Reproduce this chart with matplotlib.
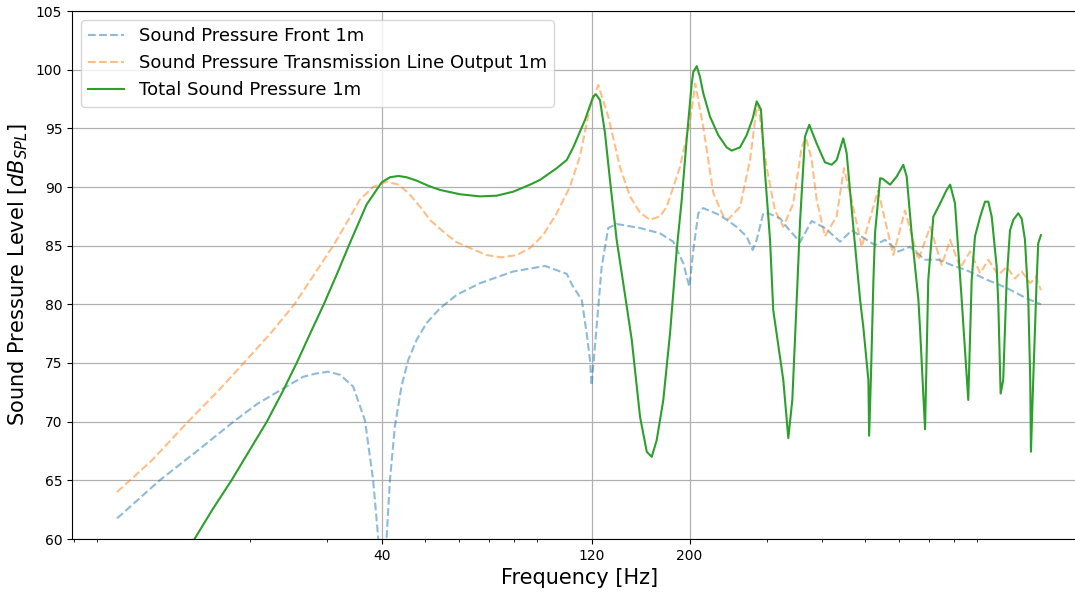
import matplotlib
matplotlib.use("Agg")
import matplotlib.pyplot as plt
import numpy as np

freq_front = [10.0, 12.5, 15.2, 18.4, 20.8, 23.9, 26.5, 28.3, 30.2, 32.1, 34.4, 36.6, 38.2,
              39.2, 39.8,
              41.0, 41.7, 42.8, 44.3, 45.9, 48.0, 50.5, 54.2, 59.1, 66.8, 79.5, 93.9,
              105.2, 108.4, 113.8, 116.8,
              118.8, 119.8, 123.0, 126.3, 130.7, 136.6, 154.4, 171.4, 183.7, 193.6, 199.8,
              204.0, 209.4, 214.9, 234.6, 256.0, 269.8, 278.4, 284.3, 294.2, 302.0, 321.2,
              332.6, 356.6, 379.0, 406.3, 439.8, 467.2, 528.0, 556.4, 596.6, 634.0, 686.0,
              735.3, 788.3, 853.1, 947.1, 1051.5, 1167.6, 1258.0]
spl_front = [61.76, 65.0, 67.5, 70.0, 71.5, 72.84, 73.83, 74.1, 74.26, 74.0, 73.0, 70.1, 65.0,
             60.2, 45.0,
             60.2, 65.0, 69.6, 73.0, 75.26, 77.0, 78.4, 79.66, 80.8, 81.8, 82.8, 83.27,
             82.6, 81.6, 80.37, 77.5,
             75.26, 73.1, 78.1, 83.2, 86.5, 86.85, 86.5, 86.05, 85.34, 83.5, 81.5,
             84.6, 87.76, 88.2, 87.6, 86.6, 85.77, 84.63, 85.5, 87.76, 87.76, 87.33,
             86.6, 85.3, 87.1, 86.5, 85.34, 86.3, 85.05, 85.5, 84.5, 84.9, 83.8,
             83.8, 83.35, 82.9, 82.1, 81.4, 80.5, 80.0]

freq_tl = [10.0, 10.7, 12.0, 14.5, 17.0, 19.4, 22.3, 25.3, 27.9, 31.0, 33.8, 35.6, 38.2,
           41.0, 43.6, 45.9, 48.9, 51.4, 55.1, 59.1, 63.4, 69.2, 74.8, 81.0, 86.8, 93.0,
           99.8, 106.9, 112.7, 118.8, 124.1, 130.7, 139.0, 146.5, 154.4,
           162.7, 171.4, 177.4, 190.3, 200.0, 206.1, 214.9, 226.5, 238.6, 245.0, 260.5, 274.5,
           284.3, 286.6, 299.4, 312.8, 326.7, 344.2, 359.7, 367.9, 379.0, 389.1, 406.3,
           432.0, 448.8, 467.2, 492.5, 536.5, 580.9, 617.7, 662.5, 704.6, 748.4, 782.4,
           824.5, 868.8, 915.5, 955.3, 1006.4, 1051.5, 1098.1, 1137.6, 1189.6, 1225.6, 1258.0]
spl_tl = [64.0, 65.0, 66.7, 70.0, 72.65, 75.0, 77.5, 80.0, 82.4, 85.0, 87.4, 88.9, 90.0,
          90.45, 90.2, 89.5, 88.3, 87.2, 86.2, 85.3, 84.8, 84.2, 84.0, 84.2, 84.8, 85.9,
          87.76, 90.0, 92.6, 96.8, 98.7, 96.0, 91.7, 89.2, 87.8,
          87.2, 87.5, 88.3, 91.7, 95.4, 98.8, 95.1, 89.5, 87.5, 87.25, 88.3, 92.3,
          96.8, 97.0, 91.7, 88.0, 86.6, 88.6, 93.4, 94.2, 92.3, 88.9, 85.8,
          87.5, 91.6, 88.9, 84.9, 89.7, 84.2, 88.0, 83.8, 86.6, 83.35, 85.5,
          83.1, 84.5, 82.65, 83.8, 82.5, 83.2, 82.2, 82.8, 81.8, 82.35, 81.2]

freq_total = [10.0, 11.9, 15.0, 16.5, 18.2, 20.0, 21.9, 23.7, 25.6, 27.5, 29.5, 31.7, 33.8,
              36.9, 39.95, 41.7, 43.6, 45.5, 48.0, 51.0, 54.2, 60.2, 66.8, 72.9, 79.5, 86.8,
              91.4, 99.8, 105.2, 108.9, 115.7, 120.8, 122.6, 125.2,
              128.5, 131.9, 136.6, 141.4, 147.8, 154.4, 159.9, 164.1, 168.4, 174.3, 180.6,
              187.0, 192.0, 197.0, 202.3, 204.0, 207.7, 211.2, 214.9, 222.6, 232.4, 242.9,
              249.4, 260.5, 269.8, 278.4, 284.3, 290.7, 296.9, 304.8, 310.0, 326.7, 335.4,
              342.5, 350.5, 356.6,
              366.0, 374.3, 389.1, 406.3, 420.9, 432.0, 447.2, 455.1, 471.3, 488.3, 496.5,
              510.0,
              512.0, 516.6, 523.6, 528.0, 542.3, 549.6, 571.4, 591.6, 612.2, 623.1, 639.6,
              662.5, 668.5, 686.0, 697.6, 716.4, 742.4, 768.0, 782.4, 802.4, 831.0, 860.1,
              875.6, 890.9, 915.5, 938.8, 955.3, 972.4, 998.0, 1006.4, 1018.9, 1032.7,
              1051.5, 1070.0, 1088.8, 1117.3, 1137.6, 1157.2, 1177.5, 1189.6, 1194.0,
              1208.3, 1230.3, 1240.4, 1258.0]
spl_total = [51.0, 54.5, 60.0, 62.55, 65.0, 67.55, 70.0, 72.45, 75.0, 77.55, 80.0, 82.7, 85.2,
             88.5, 90.4, 90.83, 90.94, 90.83, 90.54, 90.1, 89.75, 89.38, 89.2, 89.26, 89.6, 90.2,
             90.6, 91.6, 92.3, 93.4, 95.7, 97.7, 97.9, 97.4,
             94.6, 90.6, 85.5, 81.8, 77.0, 70.4, 67.44, 67.0, 68.4, 71.8, 77.5,
             84.6, 88.9, 94.0, 98.8, 99.8, 100.3, 99.4, 98.0, 96.0, 94.43, 93.38,
             93.1, 93.38, 94.43, 95.85, 97.3, 96.6, 91.2, 85.5, 79.5, 73.55, 68.6,
             71.85, 80.4, 87.0,
             94.3, 95.3, 93.7, 92.1, 91.9, 92.3, 94.15, 92.9, 86.6, 80.4, 78.1,
             73.55,
             68.8, 73.55, 82.07, 86.05, 90.75, 90.7, 90.2, 90.9, 91.9, 90.9, 86.05,
             80.4, 77.8, 69.35, 82.07, 87.47, 88.6, 89.75, 90.2, 88.6, 80.4, 71.85,
             82.07, 85.8, 87.47, 88.75, 88.75, 87.47, 83.2, 80.1, 72.4, 73.55,
             82.07, 86.3, 87.2, 87.76, 87.3, 85.5, 80.4, 73.55, 67.44,
             73.55, 82.07, 85.2, 85.9]

xticks = [40, 120, 200]
yticks = np.arange(60, 106, 5)

fig = plt.figure(figsize=(10.75, 5.92), dpi=100)
# Achse geht rechts etwas über den Bildrand hinaus (wie im Original)
ax = fig.add_axes([72/1075, 53/592, 1015/1075, 528/592])

ax.semilogx(freq_front, spl_front, "--", color="tab:blue", alpha=0.5, lw=1.5,
            label="Sound Pressure Front 1m")
ax.semilogx(freq_tl, spl_tl, "--", color="tab:orange", alpha=0.5, lw=1.5,
            label="Sound Pressure Transmission Line Output 1m")
ax.semilogx(freq_total, spl_total, "-", color="tab:green", lw=1.5,
            label="Total Sound Pressure 1m")

ax.set_xlim(7.9, 1601)
ax.set_ylim(60, 105)
ax.set_xticks(xticks)
ax.set_xticklabels([str(t) for t in xticks])
ax.set_yticks(yticks)
ax.tick_params(labelsize=10)
ax.grid(True, which="major", color="#b0b0b0", lw=0.9)

ax.set_xlabel("Frequency [Hz]", fontsize=15)
ax.set_ylabel("Sound Pressure Level [$dB_{SPL}$]", fontsize=15)

ax.legend(loc="upper left", fontsize=13)

fig.savefig("out.png", dpi=100)
